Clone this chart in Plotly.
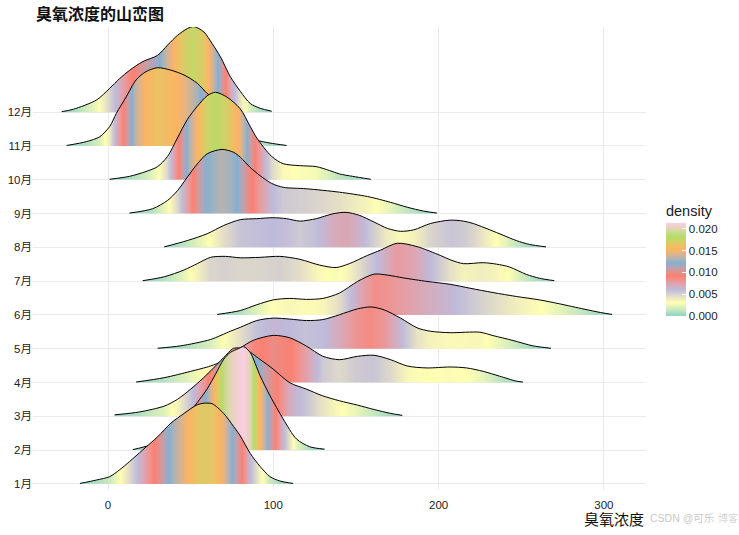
import plotly.graph_objects as go
import plotly.colors as pc

# ---------------- data ----------------
months = ["1月", "2月", "3月", "4月", "5月", "6月", "7月", "8月", "9月", "10月", "11月", "12月"]

x_jan = [-17, -7, 1, 7, 13, 21, 30, 38, 46, 54, 58, 63, 70, 76, 80, 86, 92, 98, 104, 112]
d_jan = [0.0001, 0.0008, 0.0015, 0.0029, 0.0046, 0.0070, 0.0097, 0.0125, 0.0145, 0.0163, 0.0166,
         0.0165, 0.0145, 0.0118, 0.0099, 0.0063, 0.0036, 0.0015, 0.0006, 0.0001]

x_feb = [15, 25, 35, 44, 50, 54, 60, 65, 70, 74, 79, 82, 86, 92, 98, 106, 114, 122, 131]
d_feb = [0.0001, 0.0010, 0.0027, 0.0056, 0.0080, 0.0098, 0.0126, 0.0156, 0.0187, 0.0201, 0.0209,
         0.0213, 0.0201, 0.0153, 0.0112, 0.0064, 0.0023, 0.0007, 0.0002]

x_mar = [4, 19, 34, 42, 50, 58, 66, 70, 76, 83, 92, 100, 110, 120, 130, 140, 151, 161, 171, 178]
d_mar = [0.0003, 0.0009, 0.0021, 0.0035, 0.0056, 0.0080, 0.0107, 0.0121, 0.0140, 0.0138, 0.0117,
         0.0097, 0.0069, 0.0056, 0.0042, 0.0032, 0.0023, 0.0014, 0.0006, 0.0002]

x_apr = [17, 34, 50, 62, 69, 80, 88, 100, 110, 120, 130, 140, 151, 161, 171, 181, 193, 207, 217,
         227, 237, 247, 251]
d_apr = [0.0001, 0.0010, 0.0023, 0.0034, 0.0044, 0.0071, 0.0087, 0.0097, 0.0092, 0.0075, 0.0054,
         0.0047, 0.0054, 0.0056, 0.0047, 0.0034, 0.0030, 0.0032, 0.0030, 0.0023, 0.0013, 0.0003, 0.0001]

x_may = [30, 44, 62, 74, 80, 90, 100, 110, 120, 130, 140, 151, 159, 167, 177, 187, 195, 207, 225,
         233, 245, 257, 268]
d_may = [0.0001, 0.0006, 0.0019, 0.0036, 0.0044, 0.0058, 0.0063, 0.0061, 0.0058, 0.0060, 0.0070,
         0.0082, 0.0086, 0.0080, 0.0063, 0.0043, 0.0036, 0.0033, 0.0034, 0.0027, 0.0017, 0.0006, 0.0001]

x_jun = [66, 80, 90, 100, 110, 120, 130, 140, 151, 161, 169, 179, 193, 207, 219, 233, 247, 261,
         273, 288, 298, 305]
d_jun = [0.0001, 0.0009, 0.0021, 0.0031, 0.0034, 0.0032, 0.0034, 0.0045, 0.0069, 0.0084, 0.0082,
         0.0076, 0.0069, 0.0063, 0.0055, 0.0046, 0.0038, 0.0031, 0.0023, 0.0012, 0.0005, 0.0001]

x_jul = [21, 34, 46, 54, 62, 71, 80, 92, 104, 116, 128, 138, 146, 157, 165, 175, 187, 201, 207,
         215, 227, 235, 243, 253, 261, 270]
d_jul = [0.0001, 0.0009, 0.0023, 0.0036, 0.0049, 0.0051, 0.0048, 0.0049, 0.0051, 0.0045, 0.0033,
         0.0028, 0.0036, 0.0053, 0.0064, 0.0078, 0.0071, 0.0053, 0.0044, 0.0036, 0.0038, 0.0035,
         0.0029, 0.0014, 0.0006, 0.0001]

x_aug = [34, 48, 60, 70, 80, 90, 100, 108, 116, 126, 136, 144, 152, 161, 169, 177, 185, 195, 207,
         215, 221, 231, 239, 247, 255, 265]
d_aug = [0.0001, 0.0014, 0.0028, 0.0045, 0.0057, 0.0059, 0.0061, 0.0059, 0.0054, 0.0059, 0.0069,
         0.0072, 0.0066, 0.0052, 0.0039, 0.0033, 0.0036, 0.0049, 0.0056, 0.0054, 0.0049, 0.0036,
         0.0025, 0.0014, 0.0006, 0.0001]

x_sep = [13, 27, 36, 42, 48, 54, 60, 69, 76, 80, 86, 92, 99, 106, 120, 140, 157, 171, 181, 191, 199]
d_sep = [0.0001, 0.0010, 0.0027, 0.0047, 0.0075, 0.0102, 0.0123, 0.0132, 0.0126, 0.0116, 0.0095,
         0.0078, 0.0062, 0.0054, 0.0051, 0.0044, 0.0035, 0.0023, 0.0013, 0.0005, 0.0001]

x_oct = [1, 13, 23, 30, 36, 42, 48, 54, 60, 65, 72, 80, 86, 90, 99, 106, 116, 126, 134, 140, 148, 159]
d_oct = [0.0001, 0.0007, 0.0017, 0.0027, 0.0048, 0.0086, 0.0124, 0.0151, 0.0173, 0.0180, 0.0170,
         0.0146, 0.0110, 0.0086, 0.0048, 0.0033, 0.0029, 0.0027, 0.0019, 0.0012, 0.0007, 0.0001]

x_nov = [-25, -13, -5, 1, 5, 11, 17, 23, 30, 38, 46, 54, 60, 65, 71, 77, 83, 90, 98, 108]
d_nov = [0.0001, 0.0009, 0.0019, 0.0040, 0.0067, 0.0101, 0.0136, 0.0153, 0.0161, 0.0156, 0.0146,
         0.0129, 0.0108, 0.0095, 0.0070, 0.0045, 0.0025, 0.0012, 0.0006, 0.0001]

x_dec = [-28, -21, -7, 1, 7, 13, 21, 30, 36, 42, 48, 52, 58, 63, 68, 74, 80, 86, 92, 99]
d_dec = [0.0001, 0.0006, 0.0025, 0.0049, 0.0069, 0.0086, 0.0104, 0.0117, 0.0138, 0.0158, 0.0172,
         0.0176, 0.0165, 0.0141, 0.0114, 0.0073, 0.0043, 0.0018, 0.0008, 0.0002]

ridge_x = [x_jan, x_feb, x_mar, x_apr, x_may, x_jun, x_jul, x_aug, x_sep, x_oct, x_nov, x_dec]
ridge_d = [d_jan, d_feb, d_mar, d_apr, d_may, d_jun, d_jul, d_aug, d_sep, d_oct, d_nov, d_dec]

x_ticks = [0, 100, 200, 300]
legend_ticks = [0.0, 0.005, 0.010, 0.015, 0.020]

# ---------------- styling ----------------
SET3 = ["#8DD3C7", "#FFFFB3", "#BEBADA", "#FB8072", "#80B1D3", "#FDB462", "#B3DE69", "#FCCDE5"]
RIDGE_SCALE = 143.8          # y-units per density unit
FONT = "Arial, 'Liberation Sans', 'Noto Sans CJK SC', sans-serif"


# --- colour ramp interpolated in CIELAB (like ggplot's gradientn) ---
def _hex2rgb(h):
    h = h.lstrip("#")
    return [int(h[i:i + 2], 16) / 255 for i in (0, 2, 4)]


def _rgb2lab(rgb):
    lin = [c / 12.92 if c <= 0.04045 else ((c + 0.055) / 1.055) ** 2.4 for c in rgb]
    X = (0.4124 * lin[0] + 0.3576 * lin[1] + 0.1805 * lin[2]) / 0.95047
    Y = (0.2126 * lin[0] + 0.7152 * lin[1] + 0.0722 * lin[2]) / 1.0
    Z = (0.0193 * lin[0] + 0.1192 * lin[1] + 0.9505 * lin[2]) / 1.08883
    f = lambda t: t ** (1 / 3) if t > 0.008856 else 7.787 * t + 16 / 116
    fx, fy, fz = f(X), f(Y), f(Z)
    return [116 * fy - 16, 500 * (fx - fy), 200 * (fy - fz)]


def _lab2rgb(lab):
    L, a, b = lab
    fy = (L + 16) / 116
    fx = fy + a / 500
    fz = fy - b / 200
    finv = lambda t: t ** 3 if t ** 3 > 0.008856 else (t - 16 / 116) / 7.787
    X, Y, Z = finv(fx) * 0.95047, finv(fy), finv(fz) * 1.08883
    r = 3.2406 * X - 1.5372 * Y - 0.4986 * Z
    g = -0.9689 * X + 1.8758 * Y + 0.0415 * Z
    bb = 0.0557 * X - 0.2040 * Y + 1.0570 * Z
    out = []
    for c in (r, g, bb):
        c = 12.92 * c if c <= 0.0031308 else 1.055 * c ** (1 / 2.4) - 0.055
        out.append(int(round(min(1, max(0, c)) * 255)))
    return "rgb({},{},{})".format(*out)


_labs = [_rgb2lab(_hex2rgb(c)) for c in SET3]
NSTEP = 140
cscale = []
for k in range(NSTEP + 1):
    t = k / NSTEP * (len(SET3) - 1)
    i = min(int(t), len(SET3) - 2)
    u = t - i
    lab = [_labs[i][j] + u * (_labs[i + 1][j] - _labs[i][j]) for j in range(3)]
    cscale.append([k / NSTEP, _lab2rgb(lab)])

cmax = max(max(d) for d in ridge_d)


def gradient_stops(xs, ds, sub=10):
    """colour stops for the horizontal fill gradient (colour = density at x)."""
    x0, x1 = xs[0], xs[-1]
    pos, val = [], []
    for i in range(len(xs) - 1):
        for k in range(sub):
            t = k / sub
            pos.append((xs[i] + t * (xs[i + 1] - xs[i]) - x0) / (x1 - x0))
            val.append(min(1.0, max(0.0, (ds[i] + t * (ds[i + 1] - ds[i])) / cmax)))
    pos.append(1.0)
    val.append(min(1.0, ds[-1] / cmax))
    cols = pc.sample_colorscale(cscale, val)
    return [[p, c] for p, c in zip(pos, cols)]


fig = go.Figure()

# draw from the top ridge (12月) down to 1月 so lower ridges overlap upper ones
for idx in range(len(months) - 1, -1, -1):
    xs, ds = ridge_x[idx], ridge_d[idx]
    base = idx + 1
    fig.add_trace(go.Scatter(
        x=[xs[0], xs[-1]], y=[base, base], mode="lines",
        line=dict(width=0, color="rgba(0,0,0,0)"),
        hoverinfo="skip", showlegend=False))
    fig.add_trace(go.Scatter(
        x=xs, y=[base + d * RIDGE_SCALE for d in ds], mode="lines",
        line=dict(color="black", width=1, shape="spline", smoothing=0.8),
        fill="tonexty",
        fillgradient=dict(type="horizontal", colorscale=gradient_stops(xs, ds),
                          start=xs[0], stop=xs[-1]),
        name=months[idx], hoverinfo="skip", showlegend=False))

# colour bar (legend)
fig.add_trace(go.Scatter(
    x=[0, 0], y=[-5, -5], mode="markers",
    marker=dict(color=[0, cmax], colorscale=cscale, cmin=0, cmax=cmax, size=1,
                showscale=True,
                colorbar=dict(
                    title=dict(text="density", side="top",
                               font=dict(size=14.5, color="#1a1a1a", family=FONT)),
                    thickness=20, len=114, lenmode="pixels",
                    x=1.0326, xanchor="left", xpad=0,
                    y=0.4989, yanchor="middle", ypad=0,
                    tickvals=legend_ticks,
                    ticktext=[f"{v:.3f}" for v in legend_ticks],
                    ticks="inside", ticklen=4, tickcolor="white", tickwidth=1,
                    outlinewidth=0,
                    tickfont=dict(size=11.5, color="#222222", family=FONT))),
    hoverinfo="skip", showlegend=False))

fig.update_layout(
    width=739, height=535,
    margin=dict(l=33, r=93, t=27, b=45, autoexpand=False),
    plot_bgcolor="white", paper_bgcolor="white",
    font=dict(family=FONT, color="#222222"),
    title=dict(text="<b>臭氧浓度的山峦图</b>", xref="container", x=36 / 739, xanchor="left",
               yref="container", y=1 - 14 / 535, yanchor="middle",
               font=dict(size=16, color="#111111", family=FONT)),
    xaxis=dict(range=[-45.4, 325.5], tickvals=x_ticks, showgrid=True, automargin=False,
               gridcolor="#ebebeb", gridwidth=1, zeroline=False, showline=False,
               ticks="outside", ticklen=4, tickcolor="rgba(0,0,0,0)",
               tickfont=dict(size=11.5, color="#222222")),
    yaxis=dict(range=[0.82, 14.52], tickvals=list(range(1, 13)), ticktext=months,
               showgrid=True, gridcolor="#ebebeb", gridwidth=1, zeroline=False, automargin=False,
               showline=False, ticks="", tickfont=dict(size=11.5, color="#222222")),
)

fig.add_annotation(text="臭氧浓度", xref="paper", yref="paper", x=1.0, y=0, yshift=-29,
                   xanchor="right", yanchor="middle", showarrow=False,
                   font=dict(size=15, color="#111111", family=FONT))
fig.add_annotation(text="CSDN @可乐", xref="paper", yref="paper", x=1.0, y=0, yshift=-28,
                   xanchor="left", yanchor="middle", showarrow=False, xshift=2,
                   font=dict(size=10.5, color="rgba(140,140,140,0.5)", family=FONT))
fig.add_annotation(text="博客", xref="paper", yref="paper", x=1.0, y=0, yshift=-28,
                   xanchor="left", yanchor="middle", showarrow=False, xshift=70,
                   font=dict(size=10, color="rgba(160,160,160,0.45)", family=FONT))

fig.write_html("out.html")
